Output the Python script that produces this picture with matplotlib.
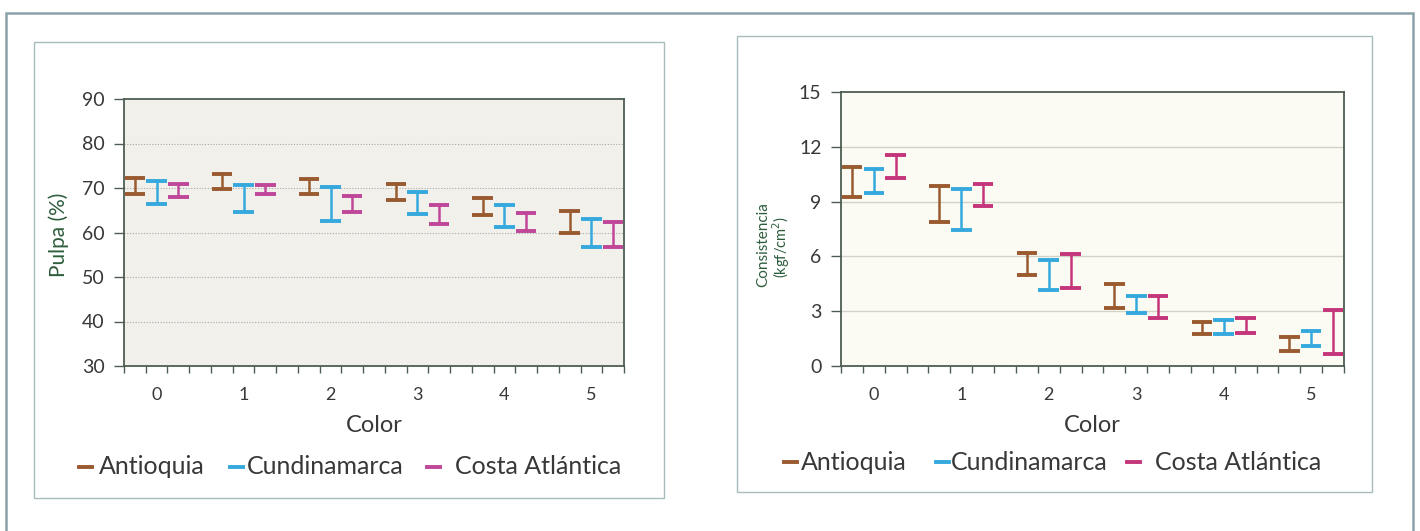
import matplotlib
matplotlib.use("Agg")
import matplotlib.pyplot as plt
from matplotlib.patches import Rectangle
from matplotlib.lines import Line2D
import numpy as np

plt.rcParams['font.family'] = ['Lato', 'DejaVu Sans']

# Categories and series
colors_cat = ["0", "1", "2", "3", "4", "5"]
series = ["Antioquia", "Cundinamarca", "Costa Atlántica"]

# Pulpa (%) ranges per color grade: (high, low)
pulpa_antioquia_hi = [72.2, 73.1, 72.0, 70.9, 67.8, 64.8]
pulpa_antioquia_lo = [68.7, 69.8, 68.7, 67.4, 63.9, 59.9]
pulpa_cundinamarca_hi = [71.5, 70.6, 70.2, 69.0, 66.1, 63.1]
pulpa_cundinamarca_lo = [66.3, 64.6, 62.6, 64.1, 61.3, 56.7]
pulpa_costa_hi = [71.0, 70.6, 68.1, 66.1, 64.4, 62.4]
pulpa_costa_lo = [68.0, 68.7, 64.6, 61.9, 60.4, 56.7]

# Consistencia (kgf/cm2) ranges per color grade: (high, low)
cons_antioquia_hi = [10.9, 9.85, 6.2, 4.47, 2.41, 1.59]
cons_antioquia_lo = [9.25, 7.88, 4.98, 3.19, 1.73, 0.82]
cons_cundinamarca_hi = [10.8, 9.69, 5.82, 3.85, 2.5, 1.92]
cons_cundinamarca_lo = [9.47, 7.43, 4.18, 2.9, 1.77, 1.08]
cons_costa_hi = [11.53, 9.98, 6.15, 3.85, 2.63, 3.05]
cons_costa_lo = [10.31, 8.74, 4.27, 2.61, 1.79, 0.64]

pulpa_ticks = [30, 40, 50, 60, 70, 80, 90]
cons_ticks = [0, 3, 6, 9, 12, 15]

brown = "#9a5a30"
blue = "#35a9dd"
magenta_l = "#c0469a"
magenta_r = "#c4357a"
axis_col = "#4d5d52"
text_col = "#383838"
label_green = "#2e5d3c"

fig = plt.figure(figsize=(14.2, 5.31), dpi=100)

# outer page frame and the two chart boxes
W, H = 1420, 531
def px_rect(x0, y0, x1, y1, **kw):
    fig.patches.append(Rectangle((x0 / W, 1 - y1 / H), (x1 - x0) / W, (y1 - y0) / H,
                                 transform=fig.transFigure, fill=False, **kw))
px_rect(6, 13, 1413, 545, edgecolor="#8aa2aa", linewidth=1.8)
px_rect(34, 42, 664, 498, edgecolor="#a9bcbc", linewidth=1.0)
px_rect(737, 36, 1372, 492, edgecolor="#a9bcbc", linewidth=1.0)


def draw_chart(ax, groups, ylim, yticks, face, grid_style, mag):
    cols = [brown, blue, mag]
    for s, (hi, lo) in enumerate(groups):
        x = np.arange(len(colors_cat)) * 4 + s + 0.5
        ax.vlines(x, lo, hi, color=cols[s], lw=1.8, zorder=3)
        ax.hlines(hi, x - 0.47, x + 0.47, color=cols[s], lw=2.8, zorder=3)
        ax.hlines(lo, x - 0.47, x + 0.47, color=cols[s], lw=2.8, zorder=3)
    ax.set_xlim(0, 23)
    ax.set_ylim(*ylim)
    ax.set_facecolor(face)
    ax.set_yticks(yticks)
    ax.set_yticklabels([str(t) for t in yticks])
    ax.set_xticks(np.arange(0, 24))
    ax.set_xticklabels([])
    ax.set_xticks(np.arange(len(colors_cat)) * 4 + 1.5, minor=True)
    ax.set_xticklabels(colors_cat, minor=True)
    ax.tick_params(axis="x", which="major", direction="out", length=5, width=1, color=axis_col)
    ax.tick_params(axis="x", which="minor", length=0, pad=15, labelsize=13, labelcolor=text_col)
    ax.tick_params(axis="y", direction="out", length=7, width=1, color=axis_col,
                   labelsize=14, labelcolor=text_col, pad=7)
    for sp in ax.spines.values():
        sp.set_color(axis_col)
        sp.set_linewidth(1.3)
    for t in yticks[1:-1]:
        ax.axhline(t, **grid_style, zorder=1)
    ax.set_xlabel("Color", fontsize=17, color=text_col, labelpad=9)


ax1 = fig.add_axes([124 / W, 1 - 366 / H, 500 / W, 267 / H])
draw_chart(ax1,
           [(pulpa_antioquia_hi, pulpa_antioquia_lo),
            (pulpa_cundinamarca_hi, pulpa_cundinamarca_lo),
            (pulpa_costa_hi, pulpa_costa_lo)],
           (30, 90), pulpa_ticks, "#f2f0eb",
           dict(color="#a8a8a8", lw=0.8, ls=(0, (1, 1.5))), magenta_l)

ax2 = fig.add_axes([841 / W, 1 - 366 / H, 503 / W, 274 / H])
draw_chart(ax2,
           [(cons_antioquia_hi, cons_antioquia_lo),
            (cons_cundinamarca_hi, cons_cundinamarca_lo),
            (cons_costa_hi, cons_costa_lo)],
           (0, 15), cons_ticks, "#fcfbf3",
           dict(color="#cfd3c8", lw=1.0, ls="-"), magenta_r)

fig.text(59 / W, 1 - 235 / H, "Pulpa (%)", rotation=90, ha="center", va="center",
         fontsize=15, color=label_green)
fig.text(763 / W, 1 - 245 / H, "Consistencia", rotation=90, ha="center", va="center",
         fontsize=11, color=label_green)
fig.text(781 / W, 1 - 247 / H, "(kgf/cm$^{2}$)", rotation=90, ha="center", va="center",
         fontsize=10.5, color=label_green)

def legend(y_px, x_starts, mag):
    cols = [brown, blue, mag]
    for (mx, tx), name, c in zip(x_starts, series, cols):
        fig.lines.append(Line2D([mx / W, (mx + 13) / W], [1 - y_px / H] * 2,
                                transform=fig.transFigure, color=c, lw=2.8))
        fig.text(tx / W, 1 - y_px / H, name, ha="left", va="center",
                 fontsize=18, color=text_col)

legend(467, [(79, 99), (230, 247), (427, 455)], magenta_l)
legend(462, [(784, 801), (936, 951), (1127, 1155)], magenta_r)

fig.savefig("out.png", dpi=100, facecolor="white")
